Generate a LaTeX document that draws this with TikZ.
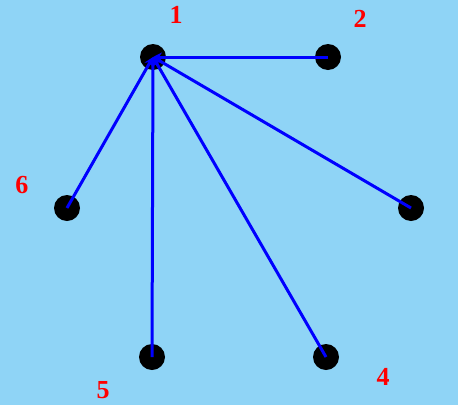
\documentclass[tikz,border=0pt]{standalone}
\usepackage{fontspec}
\setmainfont{Liberation Serif}
\usetikzlibrary{arrows.meta}
\definecolor{skyback}{RGB}{143,212,246}
\tikzset{
	vertex/.style={circle,fill=black,minimum size=26pt,inner sep=0pt},
	num/.style={text=red,font=\fontsize{26}{28}\selectfont\bfseries,inner sep=0pt},
	spoke/.style={blue,line width=3pt,-{Stealth[length=9pt,width=9pt]}}
}
\begin{document}
\begin{tikzpicture}[x=1pt,y=-1pt]
	\fill[skyback] (0,0) rectangle (458,405);
	\useasboundingbox (0,0) rectangle (458,405);
	% vertices
	\node[vertex] (v1) at (153,57) {};
	\node[vertex] (v2) at (328,57) {};
	\node[vertex] (v3) at (411,208) {};
	\node[vertex] (v4) at (326,357) {};
	\node[vertex] (v5) at (152,357) {};
	\node[vertex] (v6) at (67,208) {};
	% labels
	\node[num] (l1) at (176,15) {1};
	\node[num] (l2) at (360,19) {2};
	\node[num] (l3) at (464,184) {3};
	\node[num] (l4) at (383,377) {4};
	\node[num] (l5) at (103,390) {5};
	\node[num] (l6) at (22,185) {6};
	% edges into 1
	\draw[spoke] (v2.center) -- (v1.center);
	\draw[spoke] (v3.center) -- (v1.center);
	\draw[spoke] (v4.center) -- (v1.center);
	\draw[spoke] (v5.center) -- (v1.center);
	\draw[spoke] (v6.center) -- (v1.center);
\end{tikzpicture}
\end{document}
